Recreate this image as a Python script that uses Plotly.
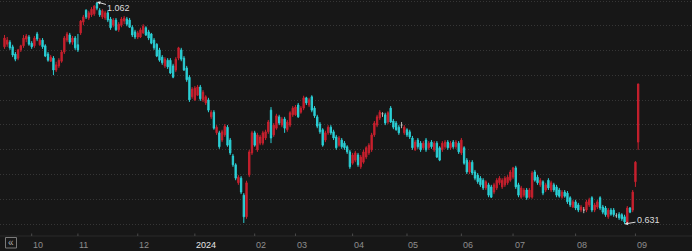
import plotly.graph_objects as go

# ---------------- data ----------------
month_labels = ["10", "11", "12", "2024", "02", "03", "04", "05", "06", "07", "08", "09"]
month_start_idx = [10, 27, 49, 70, 92, 107, 128, 148, 168, 187, 210, 232]

open_ = [
    0.975, 0.980, 0.984, 0.975, 0.961, 0.953, 0.969, 0.977, 0.990, 0.994,
    0.982, 0.977, 1.000, 0.979, 0.988, 0.977, 0.961, 0.947, 0.953, 0.930,
    0.938, 0.947, 0.965, 0.988, 0.998, 0.984, 0.992, 0.979, 1.002, 1.023,
    1.046, 1.031, 1.037, 1.039, 1.060, 1.046, 1.033, 1.031, 1.041, 1.029,
    1.017, 1.027, 1.008, 1.017, 1.025, 1.029, 1.027, 1.013, 1.004, 0.994,
    0.994, 1.002, 1.012, 1.004, 1.000, 0.988, 0.980, 0.969, 0.955, 0.938,
    0.949, 0.949, 0.938, 0.930, 0.953, 0.969, 0.953, 0.934, 0.916, 0.878,
    0.872, 0.881, 0.897, 0.872, 0.866, 0.872, 0.839, 0.848, 0.808, 0.808,
    0.794, 0.804, 0.819, 0.794, 0.763, 0.746, 0.711, 0.720, 0.687, 0.645,
    0.726, 0.769, 0.808, 0.775, 0.788, 0.788, 0.798, 0.810, 0.852, 0.804,
    0.817, 0.839, 0.823, 0.835, 0.814, 0.823, 0.843, 0.843, 0.862, 0.848,
    0.856, 0.876, 0.862, 0.878, 0.856, 0.839, 0.825, 0.814, 0.794, 0.808,
    0.819, 0.810, 0.800, 0.784, 0.794, 0.788, 0.781, 0.771, 0.749, 0.755,
    0.765, 0.742, 0.751, 0.761, 0.769, 0.775, 0.804, 0.823, 0.837, 0.845,
    0.843, 0.829, 0.856, 0.831, 0.827, 0.819, 0.823, 0.808, 0.814, 0.810,
    0.798, 0.775, 0.794, 0.788, 0.779, 0.794, 0.779, 0.790, 0.775, 0.788,
    0.779, 0.775, 0.781, 0.790, 0.779, 0.790, 0.781, 0.788, 0.769, 0.779,
    0.755, 0.732, 0.751, 0.732, 0.726, 0.720, 0.716, 0.701, 0.707, 0.703,
    0.693, 0.701, 0.711, 0.703, 0.707, 0.711, 0.716, 0.722, 0.740, 0.707,
    0.683, 0.687, 0.697, 0.683, 0.683, 0.732, 0.722, 0.707, 0.713, 0.697,
    0.716, 0.697, 0.707, 0.703, 0.697, 0.683, 0.693, 0.691, 0.682, 0.664,
    0.674, 0.668, 0.658, 0.658, 0.658, 0.668, 0.682, 0.658, 0.664, 0.682,
    0.664, 0.662, 0.645, 0.658, 0.658, 0.647, 0.650, 0.649, 0.645, 0.633,
    0.662, 0.658, 0.713, 0.790,
]
close_ = [
    0.992, 0.988, 0.973, 0.959, 0.951, 0.969, 0.977, 0.992, 0.996, 0.980,
    0.975, 0.992, 0.990, 0.988, 0.975, 0.957, 0.949, 0.955, 0.930, 0.940,
    0.949, 0.965, 0.992, 1.000, 0.984, 0.992, 0.973, 0.969, 1.025, 1.033,
    1.033, 1.041, 1.048, 1.054, 1.050, 1.037, 1.045, 1.041, 1.027, 1.012,
    1.027, 1.008, 1.019, 1.029, 1.031, 1.019, 1.013, 0.998, 0.994, 1.002,
    1.008, 1.015, 0.998, 0.992, 0.982, 0.973, 0.957, 0.949, 0.944, 0.951,
    0.936, 0.924, 0.916, 0.951, 0.973, 0.951, 0.930, 0.911, 0.872, 0.893,
    0.895, 0.897, 0.874, 0.887, 0.878, 0.852, 0.848, 0.817, 0.819, 0.781,
    0.810, 0.821, 0.784, 0.769, 0.746, 0.720, 0.722, 0.693, 0.645, 0.711,
    0.771, 0.808, 0.784, 0.804, 0.800, 0.808, 0.810, 0.829, 0.798, 0.823,
    0.841, 0.827, 0.835, 0.817, 0.829, 0.847, 0.856, 0.858, 0.839, 0.856,
    0.876, 0.866, 0.872, 0.852, 0.841, 0.821, 0.810, 0.784, 0.808, 0.819,
    0.808, 0.798, 0.779, 0.798, 0.781, 0.779, 0.771, 0.742, 0.765, 0.769,
    0.746, 0.761, 0.771, 0.779, 0.784, 0.804, 0.827, 0.839, 0.848, 0.845,
    0.827, 0.847, 0.829, 0.819, 0.814, 0.808, 0.823, 0.819, 0.804, 0.800,
    0.779, 0.790, 0.781, 0.775, 0.788, 0.775, 0.788, 0.781, 0.788, 0.761,
    0.755, 0.788, 0.790, 0.779, 0.788, 0.781, 0.790, 0.771, 0.794, 0.749,
    0.732, 0.751, 0.730, 0.720, 0.713, 0.707, 0.701, 0.713, 0.687, 0.683,
    0.707, 0.716, 0.720, 0.716, 0.720, 0.722, 0.732, 0.740, 0.703, 0.687,
    0.701, 0.697, 0.682, 0.697, 0.730, 0.716, 0.711, 0.716, 0.691, 0.707,
    0.701, 0.711, 0.697, 0.687, 0.685, 0.693, 0.685, 0.674, 0.668, 0.674,
    0.662, 0.658, 0.664, 0.658, 0.674, 0.678, 0.658, 0.668, 0.674, 0.662,
    0.654, 0.649, 0.658, 0.650, 0.649, 0.647, 0.643, 0.641, 0.635, 0.662,
    0.654, 0.693, 0.751, 0.903,
]
high_ = [
    0.998, 0.994, 0.988, 0.979, 0.965, 0.971, 0.979, 0.998, 1.000, 0.998,
    0.986, 0.996, 1.004, 0.992, 0.992, 0.980, 0.965, 0.959, 0.957, 0.946,
    0.953, 0.969, 0.996, 1.004, 1.002, 0.996, 0.996, 1.000, 1.027, 1.037,
    1.048, 1.045, 1.052, 1.056, 1.062, 1.050, 1.048, 1.045, 1.045, 1.033,
    1.031, 1.031, 1.023, 1.033, 1.035, 1.033, 1.031, 1.017, 1.008, 1.006,
    1.012, 1.019, 1.015, 1.008, 1.002, 0.992, 0.982, 0.973, 0.959, 0.955,
    0.953, 0.953, 0.942, 0.955, 0.975, 0.973, 0.957, 0.938, 0.920, 0.897,
    0.899, 0.901, 0.901, 0.891, 0.881, 0.876, 0.852, 0.852, 0.823, 0.812,
    0.814, 0.825, 0.823, 0.798, 0.767, 0.749, 0.726, 0.724, 0.691, 0.715,
    0.775, 0.812, 0.812, 0.808, 0.804, 0.812, 0.814, 0.833, 0.858, 0.827,
    0.845, 0.843, 0.839, 0.839, 0.833, 0.850, 0.860, 0.862, 0.866, 0.860,
    0.880, 0.878, 0.876, 0.881, 0.860, 0.843, 0.829, 0.817, 0.812, 0.823,
    0.823, 0.814, 0.804, 0.802, 0.798, 0.792, 0.784, 0.775, 0.769, 0.773,
    0.769, 0.765, 0.775, 0.782, 0.788, 0.808, 0.831, 0.843, 0.852, 0.848,
    0.847, 0.850, 0.860, 0.835, 0.831, 0.823, 0.829, 0.823, 0.817, 0.814,
    0.802, 0.794, 0.798, 0.792, 0.792, 0.798, 0.792, 0.794, 0.792, 0.792,
    0.782, 0.792, 0.794, 0.794, 0.792, 0.794, 0.794, 0.792, 0.798, 0.782,
    0.759, 0.755, 0.755, 0.736, 0.730, 0.724, 0.720, 0.716, 0.711, 0.707,
    0.711, 0.720, 0.724, 0.720, 0.724, 0.726, 0.736, 0.742, 0.744, 0.711,
    0.705, 0.701, 0.701, 0.701, 0.734, 0.736, 0.726, 0.720, 0.716, 0.711,
    0.720, 0.715, 0.711, 0.707, 0.701, 0.697, 0.697, 0.695, 0.685, 0.678,
    0.678, 0.672, 0.668, 0.664, 0.678, 0.682, 0.685, 0.672, 0.678, 0.685,
    0.668, 0.666, 0.662, 0.662, 0.662, 0.652, 0.654, 0.652, 0.649, 0.666,
    0.664, 0.697, 0.753, 0.903,
]
low_ = [
    0.971, 0.975, 0.969, 0.955, 0.947, 0.949, 0.965, 0.973, 0.984, 0.977,
    0.971, 0.973, 0.986, 0.977, 0.971, 0.955, 0.946, 0.946, 0.920, 0.926,
    0.934, 0.944, 0.961, 0.984, 0.980, 0.979, 0.969, 0.965, 0.998, 1.017,
    1.029, 1.027, 1.033, 1.035, 1.046, 1.033, 1.029, 1.027, 1.023, 1.008,
    1.013, 1.006, 1.004, 1.013, 1.019, 1.015, 1.012, 0.994, 0.990, 0.990,
    0.992, 1.000, 0.996, 0.988, 0.980, 0.969, 0.955, 0.946, 0.940, 0.934,
    0.932, 0.922, 0.914, 0.926, 0.949, 0.947, 0.928, 0.907, 0.868, 0.874,
    0.870, 0.880, 0.870, 0.868, 0.862, 0.848, 0.835, 0.814, 0.804, 0.777,
    0.790, 0.800, 0.781, 0.765, 0.742, 0.716, 0.707, 0.689, 0.633, 0.641,
    0.722, 0.765, 0.781, 0.771, 0.784, 0.784, 0.794, 0.806, 0.788, 0.800,
    0.814, 0.823, 0.819, 0.808, 0.810, 0.819, 0.839, 0.841, 0.837, 0.845,
    0.852, 0.862, 0.858, 0.848, 0.837, 0.817, 0.806, 0.781, 0.790, 0.804,
    0.804, 0.794, 0.775, 0.781, 0.777, 0.775, 0.767, 0.738, 0.746, 0.751,
    0.742, 0.738, 0.748, 0.757, 0.765, 0.771, 0.800, 0.819, 0.833, 0.839,
    0.823, 0.825, 0.827, 0.815, 0.812, 0.804, 0.817, 0.804, 0.800, 0.796,
    0.775, 0.773, 0.777, 0.771, 0.775, 0.771, 0.775, 0.777, 0.771, 0.759,
    0.753, 0.771, 0.777, 0.775, 0.775, 0.777, 0.777, 0.767, 0.765, 0.746,
    0.728, 0.728, 0.726, 0.716, 0.709, 0.703, 0.697, 0.697, 0.683, 0.682,
    0.689, 0.697, 0.707, 0.699, 0.703, 0.707, 0.713, 0.718, 0.699, 0.683,
    0.680, 0.683, 0.678, 0.680, 0.680, 0.713, 0.707, 0.703, 0.687, 0.693,
    0.697, 0.693, 0.693, 0.683, 0.682, 0.680, 0.682, 0.670, 0.664, 0.662,
    0.658, 0.654, 0.654, 0.652, 0.654, 0.664, 0.654, 0.654, 0.660, 0.658,
    0.650, 0.645, 0.641, 0.647, 0.645, 0.643, 0.639, 0.637, 0.631, 0.633,
    0.652, 0.654, 0.703, 0.775,
]

# ---------------- style ----------------
BG = "#171717"
UP = "#c8202e"
DOWN = "#2bd0d6"
DOJI = "#b8b8b8"
GRID = "#363636"
FONT = "Liberation Sans, Arial, sans-serif"

n = len(close_)
xs = list(range(n))
is_doji = [open_[i] == close_[i] for i in xs]


def pick(arr, keep):
    return [arr[i] if keep[i] else None for i in xs]


body_mask = [not d for d in is_doji]

fig = go.Figure()
fig.add_trace(go.Candlestick(
    x=xs, open=pick(open_, body_mask), high=pick(high_, body_mask),
    low=pick(low_, body_mask), close=pick(close_, body_mask),
    increasing=dict(line=dict(color=UP, width=1), fillcolor=UP),
    decreasing=dict(line=dict(color=DOWN, width=1), fillcolor=DOWN),
    whiskerwidth=0, showlegend=False, hoverinfo="skip",
))
fig.add_trace(go.Candlestick(
    x=xs, open=pick(open_, is_doji), high=pick(high_, is_doji),
    low=pick(low_, is_doji), close=pick(close_, is_doji),
    increasing=dict(line=dict(color=DOJI, width=1), fillcolor=DOJI),
    decreasing=dict(line=dict(color=DOJI, width=1), fillcolor=DOJI),
    whiskerwidth=0, showlegend=False, hoverinfo="skip",
))

# max / min annotations
hi_val = max(high_)
hi_idx = high_.index(hi_val)
lo_val = min(low_)
lo_idx = low_.index(lo_val)

annotations = [
    dict(x=hi_idx, y=hi_val, xref="x", yref="y", text=f"{hi_val:.3f}",
         showarrow=True, ax=22, ay=6, arrowhead=2, arrowsize=0.7, arrowwidth=1,
         arrowcolor="#dcdcdc", standoff=0, font=dict(size=9, color="#dcdcdc", family=FONT)),
    dict(x=lo_idx, y=lo_val, xref="x", yref="y", text=f"{lo_val:.3f}",
         showarrow=True, ax=24, ay=-4, arrowhead=2, arrowsize=0.7, arrowwidth=1,
         arrowcolor="#dcdcdc", standoff=0, font=dict(size=9, color="#dcdcdc", family=FONT)),
]

PLOT_H = 236.0
label_y = (PLOT_H - 244.5) / PLOT_H
for idx, lab in zip(month_start_idx, month_labels):
    annotations.append(dict(
        x=idx, y=label_y, xref="x", yref="paper", text=lab, showarrow=False,
        xanchor="left", yanchor="middle", xshift=-0.5,
        font=dict(size=9, color="#e6e6e6" if len(lab) == 4 else "#8e8e8e", family=FONT),
    ))

# back button glyph
annotations.append(dict(
    x=10.8 / 692, y=(PLOT_H - 242.6) / PLOT_H, xref="paper", yref="paper",
    text="«", showarrow=False, xanchor="center", yanchor="middle",
    font=dict(size=10, color="#a8a8a8", family=FONT),
))

shapes = [
    dict(type="line", xref="paper", yref="paper", x0=0, x1=1, y0=0, y1=0,
         line=dict(color="#2a2a2a", width=1)),
    dict(type="rect", xref="paper", yref="paper",
         x0=5.5 / 692, x1=16.5 / 692,
         y0=(PLOT_H - 248) / PLOT_H, y1=(PLOT_H - 237.5) / PLOT_H,
         line=dict(color="#7a7a7a", width=1)),
]
for idx in month_start_idx:
    shapes.append(dict(type="line", xref="x", yref="paper", x0=idx, x1=idx,
                       y0=0, y1=2.5 / PLOT_H, line=dict(color="#4a4a4a", width=1)))

fig.update_layout(
    width=692, height=251,
    margin=dict(l=0, r=0, t=0, b=15, pad=0),
    paper_bgcolor=BG, plot_bgcolor=BG,
    showlegend=False,
    font=dict(family=FONT),
    xaxis=dict(range=[-1.65, 252.8], showgrid=False, zeroline=False,
               showticklabels=False, ticks="", showline=False,
               rangeslider=dict(visible=False), fixedrange=True),
    yaxis=dict(range=[0.6077, 1.0659], tickmode="linear", tick0=0.631, dtick=0.0481,
               showgrid=True, gridcolor=GRID, gridwidth=1, griddash="1px,2px",
               showticklabels=False, zeroline=False, ticks="", fixedrange=True),
    annotations=annotations,
    shapes=shapes,
)

fig.write_html("out.html")
